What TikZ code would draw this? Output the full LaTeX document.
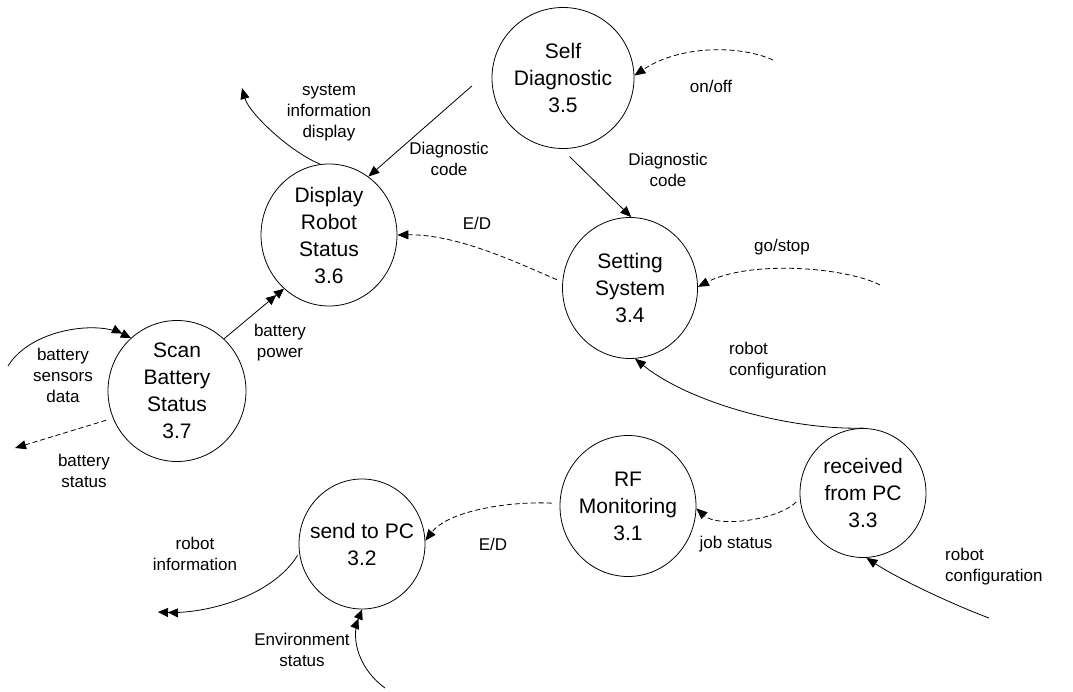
\documentclass[tikz,border=0pt]{standalone}
\usepackage{fontspec}
\setmainfont{Liberation Sans}
\usetikzlibrary{arrows.meta,shapes.geometric}

\tikzset{
  proc/.style 2 args={draw, ellipse, line width=0.8pt, inner sep=0pt,
                      minimum width=#1, minimum height=#2},
  ptext/.style={align=center, inner sep=0pt, font=\fontsize{21}{27}\selectfont},
  lab/.style={align=center, inner sep=0pt, font=\fontsize{17}{21}\selectfont},
  tip/.style={-{Triangle[length=11pt,width=9pt]}},
  flow/.style={draw, line width=0.8pt, tip},
  dflow/.style={draw, line width=0.8pt,
                -{Triangle[length=10pt,width=9pt]Triangle[length=10pt,width=9pt]}},
  dashflow/.style={flow, dash pattern=on 5pt off 3pt}
}

\begin{document}
\begin{tikzpicture}[x=1pt,y=-1pt]
\useasboundingbox (0,0) rectangle (1073,692);

% processes
\node[proc={142pt}{141pt}, label={[ptext]center:{Self\\Diagnostic\\3.5}}] (SD) at (563,78) {};
\node[proc={136pt}{142pt}, label={[ptext]center:{Display\\Robot\\Status\\3.6}}] (DRS) at (329,235) {};
\node[proc={135pt}{141pt}, label={[ptext]center:{Setting\\System\\3.4}}] (SS) at (630,288) {};
\node[proc={138pt}{141pt}, label={[ptext]center:{Scan\\Battery\\Status\\3.7}}] (SBS) at (177,391) {};
\node[proc={126pt}{130pt}, label={[ptext]center:{send to PC\\3.2}}] (SPC) at (362,544) {};
\node[proc={136pt}{141pt}, label={[ptext]center:{RF\\Monitoring\\3.1}}] (RF) at (628,506) {};
\node[proc={126pt}{129pt}, label={[ptext]center:{received\\from PC\\3.3}}] (RPC) at (863,493) {};

% free ends of external flows
\coordinate (onoffA) at (773,60);
\coordinate (gostopA) at (880,285);
\coordinate (sysinfoB) at (242,88);
\coordinate (sensorsA) at (8,366);
\coordinate (battstatB) at (15,448);
\coordinate (robinfoB) at (158,612);
\coordinate (envA) at (385,688);
\coordinate (robconfA) at (989,618);

% flows
\draw[flow, shorten <=27pt] (SD.172) -- (DRS.56);
\draw[flow, shorten <=11pt] (SD.269) -- (SS.89);
\draw[dashflow] (onoffA) .. controls (740,45) and (680,45) .. (SD.2);
\draw[dashflow] (gostopA) .. controls (845,267) and (750,260) .. (SS.1);
\draw[dashflow, shorten <=6pt] (SS.175) .. controls (518,263) and (457,234) .. (DRS.0);
\draw[flow] (DRS.97) .. controls (290,152) and (249,113) .. (sysinfoB);
\draw[dflow] (SBS.48) -- (DRS.230);
\draw[dflow] (sensorsA) .. controls (30,330) and (95,320) .. (SBS.131);
\draw[dashflow, shorten <=7pt] (SBS.203) -- (battstatB);
\draw[dflow, shorten <=3pt] (SPC.188) .. controls (271,598) and (203,614) .. (robinfoB);
\draw[dflow] (envA) .. controls (360,670) and (350,640) .. (SPC.270);
\draw[dashflow, shorten <=8pt] (RF.178) .. controls (512,501) and (449,510) .. (SPC.3);
\draw[dashflow, shorten <=5pt] (RPC.185) .. controls (778,520) and (718,528) .. (RF.358);
\draw[flow] (RPC.90) .. controls (790,430) and (690,403) .. (SS.274);
\draw[flow] (robconfA) .. controls (949,603) and (897,578) .. (RPC.273.5);

% flow labels
\node[lab] (lDiagA) at (449,159) {Diagnostic\\code};
\node[lab] (lDiagB) at (668,170) {Diagnostic\\code};
\node[lab] (lOnOff) at (711,86) {on/off};
\node[lab] (lGoStop) at (782,247) {go/stop};
\node[lab] (lEDtop) at (477,223) {E/D};
\node[lab] (lSysInfo) at (329,113) {system\\information\\display};
\node[lab] (lBattPow) at (280,343) {battery\\power};
\node[lab] (lSensors) at (63,375) {battery\\sensors\\data};
\node[lab] (lBattStat) at (84,471) {battery\\status};
\node[lab] (lRobInfo) at (195,554) {robot\\information};
\node[lab] (lEnv) at (302,650) {Environment\\status};
\node[lab] (lEDbot) at (493,544) {E/D};
\node[lab] (lJob) at (736,544) {job status};
\node[lab, align=left, anchor=west] (lConfA) at (729,361) {robot\\configuration};
\node[lab, align=left, anchor=west] (lConfB) at (945,567) {robot\\configuration};
\end{tikzpicture}
\end{document}
